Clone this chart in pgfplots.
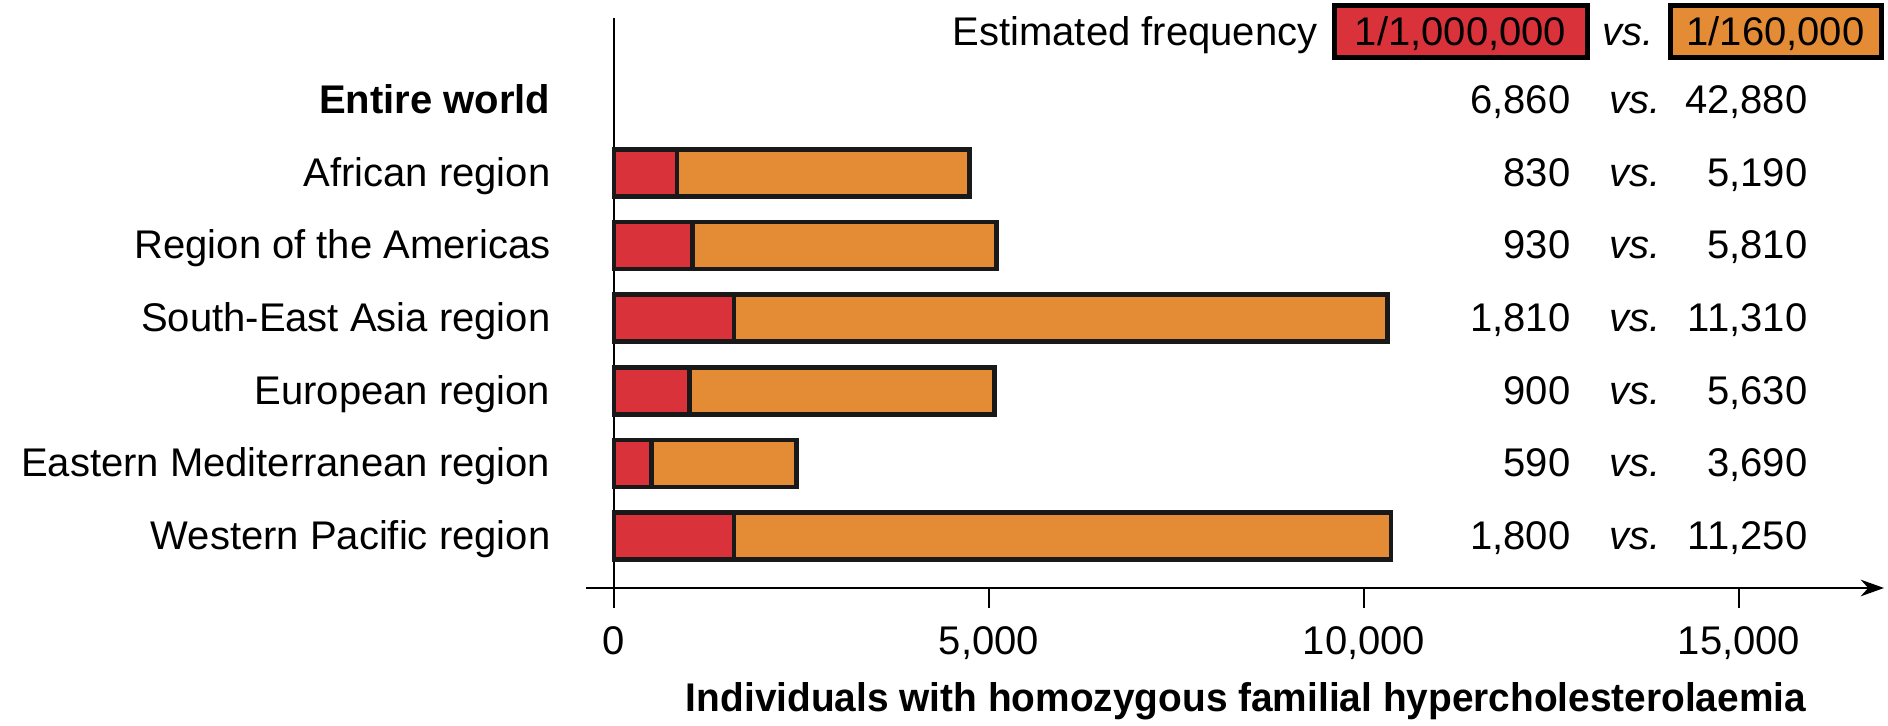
\documentclass[border=0pt]{standalone}
\usepackage{fontspec}
\setmainfont{Liberation Sans}
\usepackage{graphicx}
\usepackage{pgfplots}
\pgfplotsset{compat=1.18}
\usetikzlibrary{arrows.meta}
\definecolor{fhred}{RGB}{218,50,58}
\definecolor{fhorange}{RGB}{228,140,53}
\newcommand{\tf}{\fontsize{12}{14}\selectfont}
\begin{document}
\begin{tikzpicture}[x=0.3pt,y=0.3pt]
\path[use as bounding box] (0,0) rectangle (1888,725);
\begin{axis}[
  at={(175.8pt,41.1pt)}, anchor=south west,
  scale only axis, width=389.4pt, height=171pt,
  xmin=-373, xmax=16933, ymin=-0.716, ymax=7.13,
  axis x line*=bottom,
  axis y line=none,
  x axis line style={line width=0.6pt,-{Stealth[length=7pt,width=5pt]}},
  xtick={0,5000,10000,15000},
  xticklabels={0,{5,000},{10,000},{15,000}},
  scaled x ticks=false,
  xticklabel style={font=\tf, yshift=-2pt},
  tick align=outside, major tick length=6pt,
  tick style={line width=0.6pt, black},
  ytick=\empty,
  clip=false,
]
\draw[line width=0.6pt] (axis cs:0,7.13) -- (axis cs:0,-0.716);
\addplot[xbar, bar width=14.1pt, bar shift=0pt, fill=fhorange, draw=black!90, line width=1.4pt, line join=miter]
  coordinates {(4740,5) (5100,4) (10310,3) (5070,2) (2430,1) (10360,0)};
\addplot[xbar, bar width=14.1pt, bar shift=0pt, fill=fhred, draw=black!90, line width=1.4pt, line join=miter]
  coordinates {(840,5) (1050,4) (1600,3) (1010,2) (500,1) (1600,0)};
\end{axis}
\begin{scope}[every node/.style={font=\tf, inner sep=0pt}]
\node[anchor=base east] at (551,611) {\textbf{Entire world}};
\node[anchor=base east] at (551,538) {African region};
\node[anchor=base east] at (551,466) {Region of the Americas};
\node[anchor=base east] at (551,393) {South-East Asia region};
\node[anchor=base east] at (551,320) {European region};
\node[anchor=base east] at (551,248) {Eastern Mediterranean region};
\node[anchor=base east] at (551,175) {Western Pacific region};
\foreach \y/\a/\b in {611/{6,860}/{42,880}, 538/830/{5,190}, 466/930/{5,810}, 393/{1,810}/{11,310}, 320/900/{5,630}, 248/590/{3,690}, 175/{1,800}/{11,250}}{
  \node[anchor=base east] at (1571,\y) {\a};
  \node[anchor=base] at (1635,\y) {\textit{vs.}};
  \node[anchor=base east] at (1808,\y) {\b};
}
\node[anchor=base east] at (1318,679) {Estimated frequency};
\draw[line width=1.5pt, fill=fhred] (1334,667) rectangle (1587,719);
\node[anchor=base] at (1460.5,679) {1/1,000,000};
\node[anchor=base] at (1628,679) {\textit{vs.}};
\draw[line width=1.5pt, fill=fhorange] (1670,667) rectangle (1881,719);
\node[anchor=base] at (1775.5,679) {1/160,000};
\node[anchor=base] at (1246,13) {\resizebox{336pt}{\height}{\bfseries Individuals with homozygous familial hypercholesterolaemia}};
\end{scope}
\end{tikzpicture}
\end{document}
